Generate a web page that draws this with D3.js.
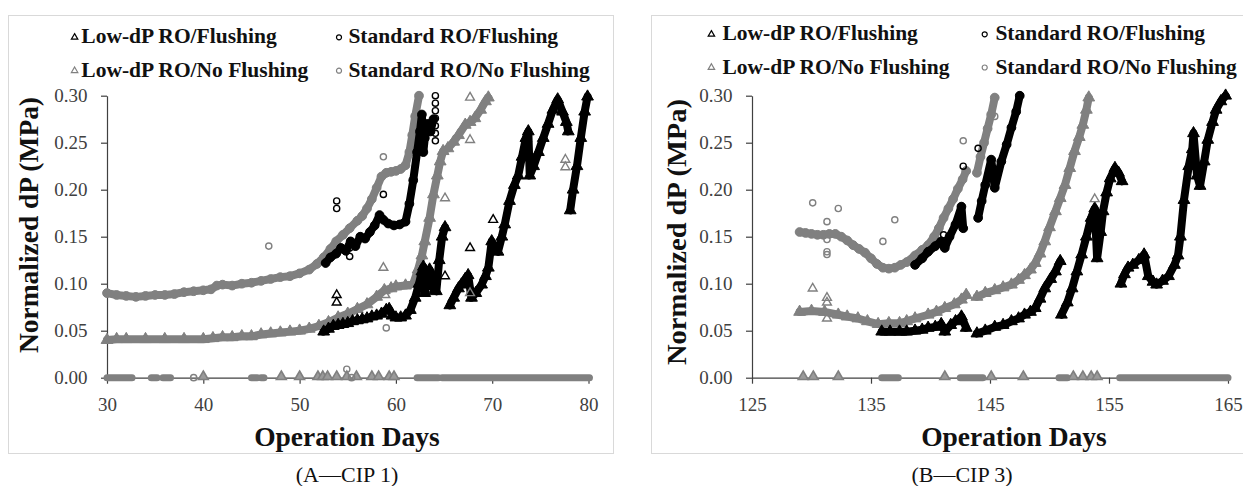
<!DOCTYPE html>
<html>
<head>
<meta charset="utf-8">
<script src="https://cdn.jsdelivr.net/npm/d3@7"></script>
<style>
  html, body { margin: 0; padding: 0; background: #fff; overflow: hidden; }
  svg { display: block; }
  text { font-family: "Liberation Serif", "Times New Roman", serif; }
</style>
</head>
<body>
<svg id="chart" width="1243" height="486"></svg>
<script>
// ---------------- data ----------------
const seriesNames = ["Low-dP RO/Flushing", "Standard RO/Flushing",
                     "Low-dP RO/No Flushing", "Standard RO/No Flushing"];
const dpTicks = [0, 0.05, 0.10, 0.15, 0.20, 0.25, 0.30];
const daysTicksA = [30, 40, 50, 60, 70, 80];
const daysTicksB = [125, 135, 145, 155, 165];
const captionA = "(A\u2014CIP 1)";
const captionB = "(B\u2014CIP 3)";

// Panel A: normalized dP (MPa) vs operation day; null = gap in record
const stdNoFlushA = [[30.0,0.090],[31.0,0.088],[32.0,0.087],[33.0,0.086],[34.0,0.087],[35.0,0.088],[36.0,0.088],[37.0,0.089],[38.0,0.091],[39.0,0.092],[40.0,0.093],[40.8,0.094],[41.4,0.098],[42.0,0.099],[43.0,0.098],[44.0,0.100],[45.0,0.101],[46.0,0.103],[47.0,0.105],[48.0,0.107],[49.0,0.108],[50.0,0.111],[51.0,0.115],[51.8,0.121],[52.5,0.128],[53.2,0.137],[53.8,0.145],[54.5,0.152],[55.2,0.159],[56.0,0.167],[56.5,0.172],[57.0,0.180],[57.5,0.190],[58.0,0.202],[58.5,0.214],[59.0,0.218],[59.5,0.219],[60.0,0.220],[60.5,0.222],[61.0,0.226],[61.4,0.240],[61.7,0.258],[62.0,0.278],[62.4,0.300]];
const lowNoFlushA = [[30.0,0.040],[31.0,0.041],[32.0,0.041],[34.0,0.041],[36.0,0.041],[38.0,0.041],[40.0,0.041],[41.0,0.042],[42.0,0.043],[43.0,0.043],[44.0,0.044],[45.0,0.044],[46.0,0.046],[47.0,0.047],[48.0,0.048],[49.0,0.049],[50.0,0.050],[51.0,0.052],[52.0,0.055],[53.0,0.059],[54.0,0.064],[55.0,0.068],[56.0,0.073],[57.0,0.078],[58.0,0.086],[58.8,0.093],[59.5,0.095],[60.0,0.097],[61.0,0.098],[61.8,0.100],[62.3,0.115],[62.7,0.130],[63.0,0.145],[63.5,0.170],[63.9,0.195],[64.3,0.215],[64.6,0.230],[64.9,0.241],[65.4,0.244],[66.0,0.251],[66.5,0.258],[67.2,0.269],[67.7,0.272],[68.2,0.276],[68.8,0.285],[69.3,0.294],[69.6,0.298]];
const stdFlushA = [[52.7,0.122],[53.2,0.128],[53.8,0.132],[54.3,0.138],[54.8,0.135],[55.3,0.145],[55.8,0.140],[56.3,0.150],[56.8,0.148],[57.3,0.155],[57.8,0.162],[58.3,0.173],[58.7,0.168],[59.2,0.164],[59.8,0.162],[60.4,0.163],[61.0,0.166],[61.4,0.185],[61.8,0.210],[62.2,0.240],[62.5,0.262],[62.7,0.280],[62.85,0.240],[63.0,0.255],[63.3,0.270],[63.6,0.262],[63.9,0.275]];
const lowFlushA = [[52.5,0.049],[53.0,0.052],[53.5,0.055],[54.0,0.056],[54.5,0.057],[55.0,0.058],[55.5,0.060],[56.0,0.061],[56.5,0.062],[57.0,0.063],[57.5,0.065],[58.0,0.066],[58.5,0.068],[59.0,0.072],[59.3,0.073],[59.6,0.066],[60.0,0.064],[60.5,0.064],[61.0,0.066],[61.5,0.072],[62.0,0.085],[62.4,0.100],[62.7,0.113],[62.85,0.118],[63.0,0.090],[63.3,0.105],[63.5,0.115],[63.7,0.100],[64.0,0.093],[64.2,0.092],[64.5,0.125],[64.8,0.150],[65.1,0.160],
  null,
  [65.6,0.077],[66.0,0.085],[66.5,0.095],[66.8,0.099],[67.2,0.105],[67.5,0.109],[67.85,0.085],[68.3,0.090],[68.9,0.099],[69.3,0.108],[69.6,0.117],[69.95,0.145],[70.3,0.136],[70.6,0.134],[71.0,0.150],[71.3,0.163],[71.8,0.188],[72.3,0.205],[72.7,0.215],[73.1,0.235],[73.5,0.255],[73.75,0.262],[73.9,0.215],[74.3,0.225],[74.8,0.240],[75.3,0.255],[75.8,0.270],[76.3,0.285],[76.8,0.296],[77.3,0.283],[77.7,0.272],[77.9,0.262],
  null,
  [78.1,0.178],[78.4,0.200],[78.8,0.225],[79.2,0.255],[79.6,0.283],[79.9,0.299]];

// Panel A isolated readings
const stdNoFlushOutA = [[46.8,0.140],[58.7,0.235],[59.0,0.053],[54.9,0.009]];
const stdFlushOutA = [[53.85,0.188],[53.85,0.180],[55.2,0.138],[55.2,0.129],[58.7,0.195],[64.1,0.252],[64.1,0.260],[64.1,0.268],[64.1,0.276],[64.1,0.284],[64.1,0.292],[64.1,0.300]];
const lowNoFlushOutA = [[58.7,0.117],[58.9,0.088],[65.1,0.191],[67.7,0.298],[67.7,0.253],[67.7,0.090],[77.6,0.232],[77.6,0.224]];
const lowFlushOutA = [[53.85,0.088],[53.85,0.080],[65.1,0.108],[67.7,0.138],[70.1,0.168]];

// Panel A zero readings: continuous runs [from, to] and single days
const zeroRunsA = [[30.0,32.6],[34.6,35.2],[35.8,36.6],[45.0,45.6],[46.0,46.3],[62.2,64.4],[64.8,80.1]];
const zeroTriA = [40.0,48.1,50.0,51.9,52.4,52.9,53.85,54.9,55.9,57.5,58.2,59.3,59.8];
const zeroCircA = [39.0,55.4];

// Panel B
const stdNoFlushB = [[129.0,0.155],[129.5,0.154],[130.0,0.153],[130.5,0.152],[131.0,0.152],[131.5,0.153],[132.0,0.153],[132.5,0.150],[133.0,0.146],[133.5,0.141],[134.0,0.137],[134.5,0.133],[135.0,0.127],[135.5,0.121],[136.0,0.117],[136.5,0.116],[137.0,0.117],[137.5,0.120],[138.0,0.123],[138.7,0.130],[139.3,0.136],[139.8,0.141],[140.3,0.150],[140.7,0.159],[141.1,0.170],[141.5,0.180],[141.9,0.190],[142.3,0.201],[142.7,0.211],[143.0,0.220],
  null,
  [143.9,0.218],[144.2,0.235],[144.5,0.250],[144.8,0.265],[145.1,0.280],[145.4,0.298]];
const lowNoFlushB = [[129.0,0.070],[130.0,0.071],[131.1,0.070],[132.25,0.067],[133.0,0.065],[133.9,0.063],[134.7,0.060],[135.6,0.057],[136.5,0.058],[137.4,0.058],[138.0,0.060],[138.7,0.063],[139.8,0.067],[140.5,0.070],[141.2,0.074],[142.0,0.078],[142.6,0.083],[143.0,0.088],
  null,
  [143.9,0.086],[144.6,0.090],[145.4,0.093],[146.1,0.096],[146.8,0.099],[147.4,0.104],[147.9,0.109],[148.4,0.115],[148.8,0.122],[149.2,0.132],[149.6,0.145],[150.0,0.160],[150.5,0.177],[150.9,0.191],[151.3,0.205],[151.7,0.223],[152.1,0.241],[152.5,0.256],[152.8,0.269],[153.1,0.285],[153.3,0.298]];
const stdFlushB = [[138.7,0.120],[139.3,0.127],[139.8,0.134],[140.4,0.140],[140.9,0.145],[141.2,0.138],[141.6,0.150],[142.1,0.163],[142.6,0.182],[142.75,0.159],
  null,
  [144.0,0.170],[144.3,0.188],[144.6,0.205],[145.1,0.232],[145.4,0.202],[145.95,0.230],[146.4,0.248],[146.8,0.266],[147.2,0.283],[147.5,0.300]];
const lowFlushB = [[135.9,0.049],[136.6,0.049],[137.4,0.049],[138.0,0.049],[138.7,0.050],[139.3,0.051],[139.8,0.053],[140.4,0.054],[140.9,0.057],[141.2,0.049],[141.7,0.056],[142.1,0.060],[142.6,0.065],[143.0,0.053],
  null,
  [143.9,0.047],[144.6,0.050],[145.4,0.054],[146.1,0.056],[146.8,0.060],[147.4,0.063],[147.9,0.067],[148.4,0.070],[148.8,0.074],[149.2,0.084],[149.6,0.095],[150.1,0.105],[150.5,0.113],[150.9,0.124],
  null,
  [151.0,0.067],[151.5,0.080],[151.9,0.095],[152.3,0.113],[152.7,0.131],[153.1,0.150],[153.5,0.170],[153.8,0.180],[154.0,0.127],[154.3,0.155],[154.5,0.177],[154.8,0.197],[155.1,0.212],[155.5,0.223],[155.8,0.218],[156.1,0.209],
  null,
  [156.0,0.100],[156.3,0.110],[156.6,0.117],[157.0,0.120],[157.5,0.125],[157.95,0.131],[158.3,0.108],[158.7,0.102],[159.0,0.099],[159.5,0.103],[160.0,0.108],[160.5,0.120],[160.8,0.130],[161.0,0.150],[161.3,0.189],[161.7,0.225],[162.0,0.243],[162.1,0.260],[162.4,0.215],[162.65,0.204],[163.0,0.230],[163.3,0.253],[163.7,0.272],[164.0,0.285],[164.4,0.294],[164.8,0.300]];

const stdNoFlushOutB = [[130.1,0.186],[131.3,0.166],[132.25,0.180],[131.3,0.147],[131.3,0.134],[131.3,0.131],[136.0,0.145],[137.0,0.168],[142.75,0.252],[145.4,0.278]];
const stdFlushOutB = [[141.1,0.152],[142.75,0.225],[144.0,0.244]];
const lowNoFlushOutB = [[130.1,0.095],[131.3,0.085],[131.3,0.080],[131.3,0.063],[153.8,0.190]];
const lowFlushOutB = [];

const zeroRunsB = [[135.9,137.3],[142.5,144.4],[150.8,151.5],[155.9,165.0]];
const zeroTriB = [129.3,130.15,132.25,141.2,145.1,147.8,152.0,152.8,153.5,154.0];
const zeroCircB = [];

// ---------------- drawing ----------------
const BLACK = "#000000", GRAY = "#808080", AXIS = "#404040";
const svg = d3.select("#chart");
const TRI = d3.symbolTriangle, CIRC = d3.symbolCircle;

const panels = [
  {
    frame: [8.5, 15.5, 613.5, 453.5],
    xDomain: [30, 80], xRange: [107, 588.5], xTicks: daysTicksA,
    yLabelX: 37.5, yLabelY: 225, yLabelLen: 256,
    xTitleX: 347, caption: captionA, captionX: 347,
    legend: { tri: [74.6, 81.3], circ: [339, 348.4], rows: [43.3, 76.7] },
    bands: [[lowNoFlushA, GRAY, TRI], [stdNoFlushA, GRAY, CIRC], [lowFlushA, BLACK, TRI], [stdFlushA, BLACK, CIRC]],
    outliers: [[lowNoFlushOutA, GRAY, TRI], [stdNoFlushOutA, GRAY, CIRC], [lowFlushOutA, BLACK, TRI], [stdFlushOutA, BLACK, CIRC]],
    zeroRuns: zeroRunsA, zeroTri: zeroTriA, zeroCirc: zeroCircA
  },
  {
    frame: [651.5, 15.5, 1252, 453.5],
    xDomain: [125, 165], xRange: [752, 1228], xTicks: daysTicksB,
    yLabelX: 685.5, yLabelY: 232, yLabelLen: 266,
    xTitleX: 1014, caption: captionB, captionX: 962,
    legend: { tri: [711.4, 722.5], circ: [984.7, 995.4], rows: [40.3, 73.5] },
    bands: [[lowNoFlushB, GRAY, TRI], [stdNoFlushB, GRAY, CIRC], [lowFlushB, BLACK, TRI], [stdFlushB, BLACK, CIRC]],
    outliers: [[lowNoFlushOutB, GRAY, TRI], [stdNoFlushOutB, GRAY, CIRC], [lowFlushOutB, BLACK, TRI], [stdFlushOutB, BLACK, CIRC]],
    zeroRuns: zeroRunsB, zeroTri: zeroTriB, zeroCirc: zeroCircB
  }
];

function drawPanel(p) {
  const g = svg.append("g");
  const [fx0, fy0, fx1, fy1] = p.frame;
  g.append("rect")
    .attr("x", fx0).attr("y", fy0)
    .attr("width", fx1 - fx0).attr("height", fy1 - fy0)
    .attr("fill", "#fff").attr("stroke", "#d9d9d9").attr("stroke-width", 1);

  const x = d3.scaleLinear().domain(p.xDomain).range(p.xRange);
  const y = d3.scaleLinear().domain([0, 0.30]).range([377.7, 95.7]);

  // axes
  const gx = g.append("g").attr("transform", `translate(0,${y(0)})`)
    .call(d3.axisBottom(x).tickValues(p.xTicks).tickSize(6).tickSizeOuter(0)
      .tickPadding(14).tickFormat(d3.format("d")));
  const gy = g.append("g").attr("transform", `translate(${x(p.xDomain[0])},0)`)
    .call(d3.axisLeft(y).tickValues(dpTicks).tickSize(6).tickSizeOuter(0)
      .tickPadding(13.5).tickFormat(d3.format(".2f")));
  [gx, gy].forEach(a => {
    a.attr("font-family", null).attr("font-size", null);
    a.select(".domain").attr("stroke", AXIS).attr("stroke-width", 1.2);
    a.selectAll(".tick line").attr("stroke", AXIS).attr("stroke-width", 1.2);
    a.selectAll(".tick text").attr("fill", AXIS).attr("font-size", "19px")
      .style("font-family", '"Liberation Serif", "Times New Roman", serif');
  });

  // dense logged readings: drawn as a thick trace plus a marker per reading
  const line = d3.line().defined(d => d !== null).x(d => x(d[0])).y(d => y(d[1]));
  p.bands.forEach(([pts, color, sym]) => {
    g.append("path").datum(pts).attr("d", line)
      .attr("fill", "none").attr("stroke", color).attr("stroke-width", 8)
      .attr("stroke-linejoin", "round").attr("stroke-linecap", "round");
    g.append("g").selectAll("path").data(pts.filter(d => d !== null)).join("path")
      .attr("transform", d => `translate(${x(d[0])},${y(d[1])})`)
      .attr("d", d3.symbol(sym, 60))
      .attr("fill", color).attr("stroke", color).attr("stroke-width", 1);
  });

  // zero readings along the axis
  const gz = g.append("g");
  gz.selectAll("line").data(p.zeroRuns).join("line")
    .attr("x1", d => x(d[0])).attr("x2", d => x(d[1]))
    .attr("y1", y(0)).attr("y2", y(0))
    .attr("stroke", GRAY).attr("stroke-width", 7).attr("stroke-linecap", "round");
  gz.selectAll("path.t").data(p.zeroTri).join("path").attr("class", "t")
    .attr("transform", d => `translate(${x(d)},${y(0) - 1})`)
    .attr("d", d3.symbol(TRI, 42))
    .attr("fill", "#9a9a9a").attr("stroke", GRAY).attr("stroke-width", 1.6);
  gz.selectAll("path.c").data(p.zeroCirc).join("path").attr("class", "c")
    .attr("transform", d => `translate(${x(d)},${y(0)})`)
    .attr("d", d3.symbol(CIRC, 30))
    .attr("fill", "none").attr("stroke", GRAY).attr("stroke-width", 1.5);

  // isolated readings, open markers
  p.outliers.forEach(([pts, color, sym]) => {
    g.append("g").selectAll("path").data(pts).join("path")
      .attr("transform", d => `translate(${x(d[0])},${y(d[1])})`)
      .attr("d", d3.symbol(sym, sym === TRI ? 34 : 30))
      .attr("fill", "none").attr("stroke", color).attr("stroke-width", 1.4);
  });

  // legend
  const lg = g.append("g");
  const entries = [
    { name: seriesNames[0], color: BLACK, sym: TRI, col: p.legend.tri, row: 0 },
    { name: seriesNames[1], color: BLACK, sym: CIRC, col: p.legend.circ, row: 0 },
    { name: seriesNames[2], color: GRAY, sym: TRI, col: p.legend.tri, row: 1 },
    { name: seriesNames[3], color: GRAY, sym: CIRC, col: p.legend.circ, row: 1 }
  ];
  entries.forEach(e => {
    const by = p.legend.rows[e.row];
    lg.append("path")
      .attr("transform", `translate(${e.col[0]},${by - 6})`)
      .attr("d", d3.symbol(e.sym, e.sym === TRI ? 18 : 20))
      .attr("fill", "none").attr("stroke", e.color).attr("stroke-width", 1.2);
    lg.append("text").attr("x", e.col[1]).attr("y", by)
      .attr("font-size", "21.5px").attr("font-weight", "bold").attr("fill", "#111")
      .text(e.name);
  });

  // axis titles
  g.append("text")
    .attr("transform", `translate(${p.yLabelX},${p.yLabelY}) rotate(-90)`)
    .attr("text-anchor", "middle").attr("font-size", "27.5px").attr("font-weight", "bold")
    .attr("fill", "#111").attr("textLength", p.yLabelLen).attr("lengthAdjust", "spacingAndGlyphs")
    .text("Normalized dP (MPa)");
  g.append("text")
    .attr("x", p.xTitleX).attr("y", 446)
    .attr("text-anchor", "middle").attr("font-size", "27.5px").attr("font-weight", "bold")
    .attr("fill", "#111")
    .text("Operation Days");

  // caption under the panel
  svg.append("text")
    .attr("x", p.captionX).attr("y", 482)
    .attr("text-anchor", "middle").attr("font-size", "22px").attr("fill", "#111")
    .text(p.caption);
}

panels.forEach(drawPanel);
</script>
</body>
</html>
